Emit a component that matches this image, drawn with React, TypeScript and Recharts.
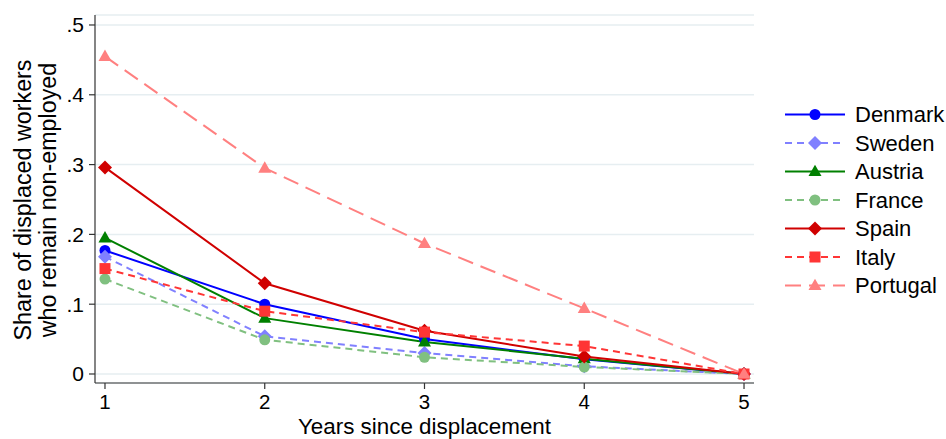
import { CartesianGrid, Line, LineChart, XAxis, YAxis } from "recharts";

const years = [1, 2, 3, 4, 5];
const denmark = [0.177, 0.1, 0.05, 0.021, 0];
const sweden = [0.168, 0.054, 0.03, 0.011, 0];
const austria = [0.195, 0.08, 0.046, 0.022, 0];
const france = [0.136, 0.049, 0.024, 0.01, 0];
const spain = [0.296, 0.13, 0.062, 0.025, 0];
const italy = [0.151, 0.09, 0.06, 0.04, 0];
const portugal = [0.455, 0.295, 0.187, 0.094, 0];
const yTicks = [0, 0.1, 0.2, 0.3, 0.4, 0.5];

const FONT = '"Liberation Sans", Arial, Helvetica, sans-serif';

type Shape = "circle" | "diamond" | "triangle" | "square";

const series: {
  key: string;
  name: string;
  values: number[];
  color: string;
  dash?: string;
  shape: Shape;
}[] = [
  { key: "denmark", name: "Denmark", values: denmark, color: "#0000ff", shape: "circle" },
  { key: "sweden", name: "Sweden", values: sweden, color: "#8080ff", dash: "7 5", shape: "diamond" },
  { key: "austria", name: "Austria", values: austria, color: "#008000", shape: "triangle" },
  { key: "france", name: "France", values: france, color: "#80c080", dash: "7 5", shape: "circle" },
  { key: "spain", name: "Spain", values: spain, color: "#d00000", shape: "diamond" },
  { key: "italy", name: "Italy", values: italy, color: "#ff3535", dash: "7 5", shape: "square" },
  { key: "portugal", name: "Portugal", values: portugal, color: "#ff8080", dash: "16 8", shape: "triangle" },
];

const data = years.map((year, i) => {
  const row: Record<string, number> = { year };
  series.forEach((s) => {
    row[s.key] = s.values[i];
  });
  return row;
});

function Marker({ cx, cy, shape, color }: { cx?: number; cy?: number; shape: Shape; color: string }) {
  if (cx == null || cy == null) return null;
  if (shape === "circle") return <circle cx={cx} cy={cy} r={5.5} fill={color} />;
  if (shape === "square") return <rect x={cx - 5.5} y={cy - 5.5} width={11} height={11} fill={color} />;
  if (shape === "diamond") {
    const s = 7;
    return <polygon points={`${cx},${cy - s} ${cx + s},${cy} ${cx},${cy + s} ${cx - s},${cy}`} fill={color} />;
  }
  const s = 6.5;
  return (
    <polygon
      points={`${cx},${cy - s * 1.05} ${cx + s},${cy + s * 0.7} ${cx - s},${cy + s * 0.7}`}
      fill={color}
    />
  );
}

const yFormat = (v: number) => (v === 0 ? "0" : `.${Math.round(v * 10)}`);

function YLabel(props: any) {
  const vb = props.viewBox || { y: 15, height: 368 };
  const cy = vb.y + vb.height / 2 + 1;
  return (
    <g fontFamily={FONT} fontSize={23.3} fill="#000">
      <text x={31} y={cy} textAnchor="middle" transform={`rotate(-90 31 ${cy})`}>
        Share of displaced workers
      </text>
      <text x={56} y={cy} textAnchor="middle" transform={`rotate(-90 56 ${cy})`}>
        who remain non-employed
      </text>
    </g>
  );
}

function XLabel(props: any) {
  const vb = props.viewBox || { x: 95, width: 659 };
  return (
    <text x={vb.x + vb.width / 2} y={434} textAnchor="middle" fontFamily={FONT} fontSize={22.4} fill="#000">
      Years since displacement
    </text>
  );
}

function Legend() {
  const top = 114.5;
  const step = 28.5;
  return (
    <svg
      width={946}
      height={439}
      style={{ position: "absolute", left: 0, top: 0, pointerEvents: "none" }}
    >
      {series.map((s, i) => {
        const y = top + i * step;
        return (
          <g key={s.key}>
            <line x1={785} x2={845} y1={y} y2={y} stroke={s.color} strokeWidth={2} strokeDasharray={s.dash} />
            <Marker cx={815} cy={y} shape={s.shape} color={s.color} />
            <text x={855} y={y} dy="0.36em" fontFamily={FONT} fontSize={22} fill="#000">
              {s.name}
            </text>
          </g>
        );
      })}
    </svg>
  );
}

export default function App() {
  return (
    <div style={{ position: "absolute", left: 0, top: 0, width: 946, height: 439, background: "#fff" }}>
      <LineChart width={946} height={439} data={data} margin={{ top: 15, right: 192, bottom: 0, left: 0 }}>
        <CartesianGrid vertical={false} stroke="#e6eef1" strokeWidth={1.5} />
        <XAxis
          dataKey="year"
          type="number"
          domain={[0.9375, 5.0625]}
          ticks={years}
          allowDataOverflow
          height={56}
          tickSize={6}
          tickMargin={5}
          axisLine={{ stroke: "#333", strokeWidth: 1.2 }}
          tickLine={{ stroke: "#333", strokeWidth: 1.2 }}
          tick={{ fontSize: 20.5, fill: "#000", fontFamily: FONT }}
          label={<XLabel />}
        />
        <YAxis
          type="number"
          domain={[-0.0129, 0.5143]}
          ticks={yTicks}
          allowDataOverflow
          width={95}
          tickSize={6}
          tickMargin={5}
          tickFormatter={yFormat}
          axisLine={{ stroke: "#333", strokeWidth: 1.2 }}
          tickLine={{ stroke: "#333", strokeWidth: 1.2 }}
          tick={{ fontSize: 21, fill: "#000", fontFamily: FONT }}
          label={<YLabel />}
        />
        {series.map((s) => (
          <Line
            key={s.key}
            dataKey={s.key}
            name={s.name}
            type="linear"
            stroke={s.color}
            strokeWidth={2}
            strokeDasharray={s.dash}
            dot={(p: any) => (
              <Marker key={`${s.key}-${p.index}`} cx={p.cx} cy={p.cy} shape={s.shape} color={s.color} />
            )}
            activeDot={false}
            isAnimationActive={false}
          />
        ))}
      </LineChart>
      <Legend />
    </div>
  );
}
